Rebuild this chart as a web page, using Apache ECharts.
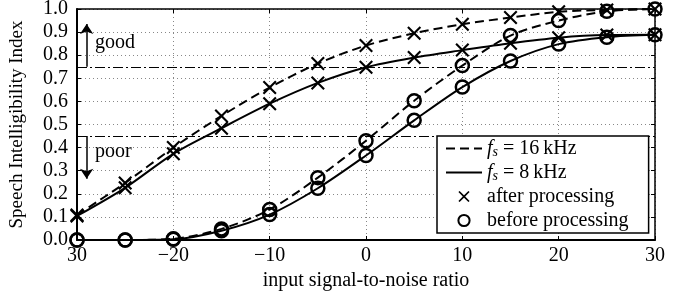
<!DOCTYPE html>
<html>
<head>
<meta charset="utf-8">
<script src="https://cdn.jsdelivr.net/npm/echarts@6/dist/echarts.min.js"></script>
<style>
  html, body { margin: 0; padding: 0; background: #fff; }
  #chart { width: 673px; height: 291px; }
</style>
</head>
<body>
<div id="chart"></div>
<script>
// input SNR in dB, one marker every 5 dB
var snr = [-30, -25, -20, -15, -10, -5, 0, 5, 10, 15, 20, 25, 30];
var xTickLabels = ['30', '\u221220', '\u221210', '0', '10', '20', '30'];

// SII values
var after16 = [0.108, 0.247, 0.40, 0.537, 0.66, 0.764, 0.842, 0.895, 0.934, 0.963, 0.988, 0.996, 1.0];
var after8 = [0.104, 0.226, 0.373, 0.484, 0.59, 0.68, 0.748, 0.79, 0.822, 0.852, 0.876, 0.887, 0.888];
var before16 = [0.0, 0.0, 0.005, 0.048, 0.132, 0.27, 0.43, 0.603, 0.755, 0.885, 0.95, 0.99, 1.0];
var before8 = [0.0, 0.0, 0.003, 0.04, 0.11, 0.224, 0.366, 0.518, 0.662, 0.775, 0.848, 0.878, 0.888];

var goodLevel = 0.75;
var poorLevel = 0.45;

var FONT = '"Liberation Serif", "DejaVu Serif", serif';
var crossPath = 'path://M0,1.5L1.5,0L7,5.5L12.5,0L14,1.5L8.5,7L14,12.5L12.5,14L7,8.5L1.5,14L0,12.5L5.5,7Z';

function pairs(ys) {
    return snr.map(function (x, i) { return [x, ys[i]]; });
}

var dashed = [9, 5];

var myChart = echarts.init(document.getElementById('chart'));

var option = {
    animation: false,
    backgroundColor: '#fff',
    textStyle: { fontFamily: FONT, color: '#000' },
    grid: { left: 77, right: 18, top: 9, bottom: 51, containLabel: false, outerBoundsMode: 'none' },
    legend: {
        orient: 'vertical',
        left: 437,
        top: 136,
        data: [
            { name: '16k', itemStyle: { opacity: 0 } },
            { name: '8k', itemStyle: { opacity: 0 } },
            'after',
            'before'
        ],
        backgroundColor: '#fff',
        borderColor: '#000',
        borderWidth: 1.5,
        borderRadius: 0,
        padding: [2, 20, 2, 8],
        itemGap: 3,
        itemWidth: 36,
        itemHeight: 14,
        selectedMode: false,
        formatter: function (name) {
            if (name === '16k') return '{f|f}{s|s}{t| = 16\u2009kHz}';
            if (name === '8k') return '{f|f}{s|s}{t| = 8\u2009kHz}';
            if (name === 'after') return 'after processing';
            return 'before processing';
        },
        textStyle: {
            fontFamily: FONT,
            fontSize: 20,
            lineHeight: 21,
            color: '#000',
            rich: {
                f: { fontFamily: FONT, fontSize: 20, fontStyle: 'italic', lineHeight: 21, verticalAlign: 'bottom' },
                s: { fontFamily: FONT, fontSize: 14, fontStyle: 'italic', lineHeight: 21, verticalAlign: 'bottom' },
                t: { fontFamily: FONT, fontSize: 20, lineHeight: 21, verticalAlign: 'bottom' }
            }
        }
    },
    xAxis: [{
        type: 'value',
        min: -30,
        max: 30,
        interval: 10,
        name: 'input signal-to-noise ratio',
        nameLocation: 'middle',
        nameGap: 28,
        nameTextStyle: { fontFamily: FONT, fontSize: 20, color: '#000' },
        axisLine: { onZero: false, lineStyle: { color: '#000', width: 2 } },
        axisTick: { inside: true, length: 4, lineStyle: { color: '#000', width: 1 } },
        axisLabel: {
            fontFamily: FONT, fontSize: 20, color: '#000', margin: 6,
            formatter: function (v) { return xTickLabels[Math.round((v + 30) / 10)]; }
        },
        splitLine: { show: true, lineStyle: { type: [1, 3], color: '#888', width: 1 } }
    }, {
        type: 'value',
        position: 'top',
        min: -30,
        max: 30,
        interval: 10,
        axisLine: { onZero: false, lineStyle: { color: '#000', width: 1.5 } },
        axisTick: { inside: true, length: 4, lineStyle: { color: '#000' } },
        axisLabel: { show: false },
        splitLine: { show: false }
    }],
    yAxis: [{
        type: 'value',
        min: 0,
        max: 1,
        interval: 0.1,
        name: 'Speech Intelligibility Index',
        nameLocation: 'middle',
        nameGap: 50,
        nameTextStyle: { fontFamily: FONT, fontSize: 19, color: '#000' },
        axisLine: { show: true, onZero: false, lineStyle: { color: '#000', width: 2 } },
        axisTick: { show: true, inside: true, length: 4, lineStyle: { color: '#000' } },
        axisLabel: {
            fontFamily: FONT, fontSize: 20, color: '#000', margin: 9,
            formatter: function (v) { return v.toFixed(1); }
        },
        splitLine: { show: true, lineStyle: { type: [1, 3], color: '#888', width: 1 } }
    }, {
        type: 'value',
        position: 'right',
        min: 0,
        max: 1,
        interval: 0.1,
        axisLine: { show: true, onZero: false, lineStyle: { color: '#000', width: 1.5 } },
        axisTick: { show: true, inside: true, length: 4, lineStyle: { color: '#000' } },
        axisLabel: { show: false },
        splitLine: { show: false }
    }],
    graphic: [
        { type: 'text', left: 95, top: 33, style: { text: 'good', font: '20px ' + FONT, fill: '#000' } },
        { type: 'text', left: 95, top: 142, style: { text: 'poor', font: '20px ' + FONT, fill: '#000' } }
    ],
    series: [
        // legend-only entries
        { name: '16k', type: 'line', data: [], symbol: 'none', lineStyle: { color: '#000', width: 2, type: dashed }, itemStyle: { color: '#000' } },
        { name: '8k', type: 'line', data: [], symbol: 'none', lineStyle: { color: '#000', width: 2 }, itemStyle: { color: '#000' } },
        { name: 'after', type: 'line', data: [], symbol: crossPath, symbolSize: 10, lineStyle: { opacity: 0 }, itemStyle: { color: '#000' } },
        { name: 'before', type: 'line', data: [], symbol: 'circle', symbolSize: 11, lineStyle: { opacity: 0 }, itemStyle: { color: 'none', borderColor: '#000', borderWidth: 2.5 } },

        {
            type: 'line', data: pairs(after16), smooth: 0.3, z: 3,
            symbol: crossPath, symbolSize: 14,
            itemStyle: { color: '#000' },
            lineStyle: { color: '#000', width: 2, type: dashed },
            markLine: {
                silent: true,
                z: 1,
                label: { show: false },
                data: [
                    [{ coord: [-30, goodLevel], symbol: 'none' }, { coord: [30, goodLevel], symbol: 'none' }],
                    [{ coord: [-30, poorLevel], symbol: 'none' }, { coord: [30, poorLevel], symbol: 'none' }]
                ],
                lineStyle: { color: '#000', width: 1, type: [10, 3, 2, 3] }
            }
        },
        {
            type: 'line', data: pairs(after8), smooth: 0.3, z: 3,
            symbol: crossPath, symbolSize: 14,
            itemStyle: { color: '#000' },
            lineStyle: { color: '#000', width: 2 },
            markLine: {
                silent: true,
                label: { show: false },
                itemStyle: { color: '#000' },
                lineStyle: { color: '#000', width: 1.5, type: 'solid' },
                data: [
                    [{ coord: [-29, goodLevel], symbol: 'none' }, { coord: [-29, 0.935], symbol: 'arrow', symbolSize: 10 }],
                    [{ coord: [-29, poorLevel], symbol: 'none' }, { coord: [-29, 0.265], symbol: 'arrow', symbolSize: 10 }]
                ]
            }
        },
        {
            type: 'line', data: pairs(before16), smooth: 0.3, z: 3,
            symbol: 'circle', symbolSize: 13,
            itemStyle: { color: 'none', borderColor: '#000', borderWidth: 2.5 },
            lineStyle: { color: '#000', width: 2, type: dashed }
        },
        {
            type: 'line', data: pairs(before8), smooth: 0.3, z: 3,
            symbol: 'circle', symbolSize: 13,
            itemStyle: { color: 'none', borderColor: '#000', borderWidth: 2.5 },
            lineStyle: { color: '#000', width: 2 }
        }
    ]
};

myChart.setOption(option);

window.onresize = function () {
    setTimeout(function () { myChart.resize(); }, 50);
};
</script>
</body>
</html>
